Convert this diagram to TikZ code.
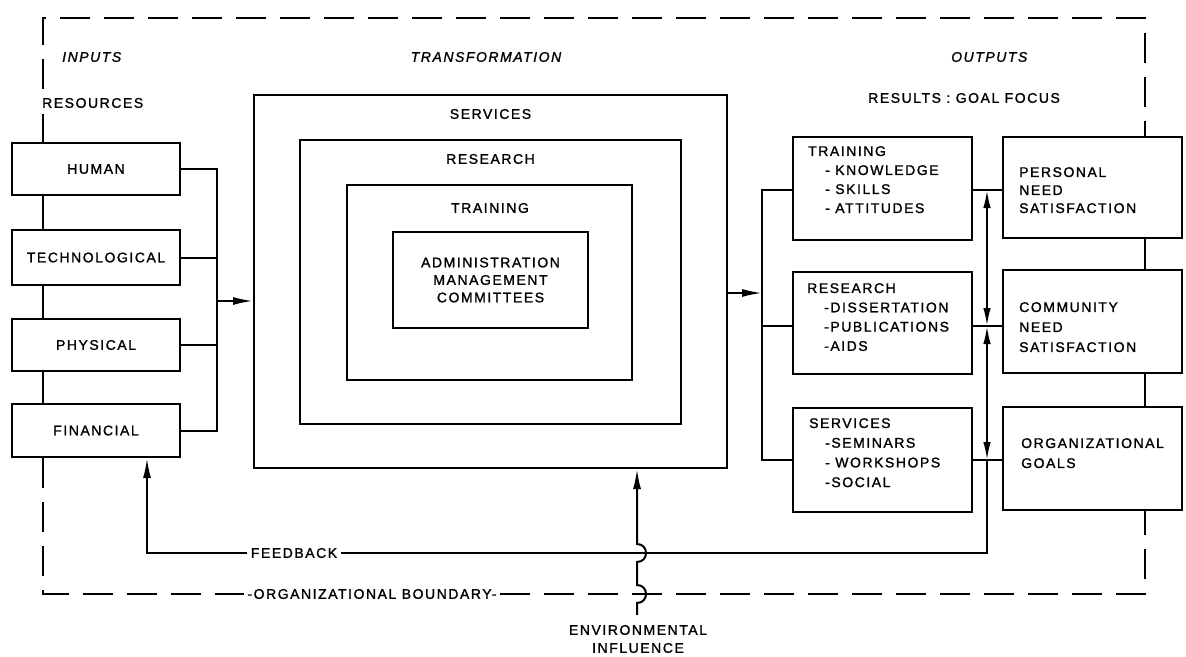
\documentclass[tikz,border=0pt]{standalone}
\usepackage{fontspec}
\setmainfont{Liberation Sans}[LetterSpace=11, FakeBold=1.3]
\usetikzlibrary{arrows.meta}

\begin{document}
\begin{tikzpicture}[x=1pt,y=-1pt,
  every node/.style={inner sep=0pt, font=\fontsize{14}{18}\selectfont},
  line/.style={line width=2pt},
  box/.style={draw, line width=2pt, inner sep=0pt},
  bound/.style={line width=2pt, dash pattern=on 30pt off 14pt},
  tip/.style={-{Latex[length=20pt,width=8pt]}},
  twotip/.style={{Latex[length=18pt,width=7.5pt]}-{Latex[length=18pt,width=7.5pt]}},
  head/.style={font=\fontsize{14}{18}\selectfont\itshape},
  list/.style={align=left, anchor=north west},
]
\useasboundingbox (0,0) rectangle (1186,656);

% ---------- headings ----------
\node[head, anchor=west] (inputs) at (62,57) {INPUTS};
\node[head] (transf) at (486,57) {TRANSFORMATION};
\node[head, anchor=west] (outputs) at (951,57) {OUTPUTS};
\node[anchor=west] (resources) at (42,103) {RESOURCES};
\node[anchor=west] (results) at (868,98) {RESULTS : GOAL FOCUS};

% ---------- input resources ----------
\node[box, minimum width=168, minimum height=52] (human) at (96,169) {HUMAN};
\node[box, minimum width=168, minimum height=55] (tech) at (96,257.5) {TECHNOLOGICAL};
\node[box, minimum width=168, minimum height=52] (phys) at (96,345) {PHYSICAL};
\node[box, minimum width=168, minimum height=53] (fin) at (96,430.5) {FINANCIAL};

% ---------- transformation (nested frames) ----------
\node[box, minimum width=473, minimum height=373] (services) at (490.5,281.5) {};
\node[box, minimum width=381, minimum height=284] (research) at (490.5,282) {};
\node[box, minimum width=285, minimum height=195] (training) at (489.5,282.5) {};
\node[box, minimum width=195, minimum height=96, align=center,
      font=\fontsize{14}{17.5}\selectfont] (admin) at (490.5,280)
      {ADMINISTRATION\\MANAGEMENT\\COMMITTEES};
\node (lsvc) at (490.5,114) {SERVICES};
\node (lres) at (490.5,159) {RESEARCH};
\node (ltrn) at (490,208) {TRAINING};

% ---------- outputs ----------
\node[box, minimum width=179, minimum height=103] (otrain) at (882.5,188.5) {};
\node[box, minimum width=179, minimum height=102] (ores) at (882.5,323) {};
\node[box, minimum width=179, minimum height=104] (osvc) at (882.5,460) {};
\node[list, font=\fontsize{14}{19}\selectfont] (ttrain) at (808,146)
  {TRAINING\\\hspace*{17pt}- KNOWLEDGE\\\hspace*{17pt}- SKILLS\\\hspace*{17pt}- ATTITUDES};
\node[list, font=\fontsize{14}{19.3}\selectfont] (tres) at (807,283)
  {RESEARCH\\\hspace*{17pt}-DISSERTATION\\\hspace*{17pt}-PUBLICATIONS\\\hspace*{17pt}-AIDS};
\node[list, font=\fontsize{14}{19.7}\selectfont] (tsvc) at (809,418)
  {SERVICES\\\hspace*{16pt}-SEMINARS\\\hspace*{16pt}- WORKSHOPS\\\hspace*{16pt}-SOCIAL};

% ---------- goals ----------
\node[box, minimum width=179, minimum height=101] (personal) at (1092.5,187.5) {};
\node[box, minimum width=179, minimum height=103] (community) at (1092.5,321.5) {};
\node[box, minimum width=179, minimum height=103] (org) at (1092.5,458.5) {};
\node[list, font=\fontsize{14}{18}\selectfont] (tpers) at (1019,167)
  {PERSONAL\\NEED\\SATISFACTION};
\node[list, font=\fontsize{14}{20}\selectfont] (tcomm) at (1019,302)
  {COMMUNITY\\NEED\\SATISFACTION};
\node[list, font=\fontsize{14}{20}\selectfont] (torg) at (1021,438)
  {ORGANIZATIONAL\\GOALS};

% ---------- labels on the bottom lines ----------
\node[inner xsep=4pt] (feedback) at (294,553) {FEEDBACK};
\node[inner xsep=3pt] (boundary) at (372,594) {-ORGANIZATIONAL BOUNDARY-};
\node[align=center] (env) at (638,639) {ENVIRONMENTAL\\INFLUENCE};

% ---------- reference coordinates ----------
\coordinate (lcol) at (43,0);
\coordinate (lbus) at (217,301);
\coordinate (rbus) at (762,293);
\coordinate (j1) at (987,190);
\coordinate (j2) at (987,326);
\coordinate (j3) at (987,460);
\coordinate (fbus) at (987,553);
\coordinate (fx) at (147,553);
\coordinate (envx) at (637,0);
\coordinate (tl) at (43,18);
\coordinate (tr) at (1145,18);
\coordinate (bl) at (43,594);
\coordinate (br) at (1145,594);

% ---------- organizational boundary ----------
\draw[bound] ([yshift=9pt]resources.north west -| lcol) -- (tl) -- (tr) -- (personal.north -| tr);
\draw[bound] ([yshift=-6pt]resources.south west -| lcol) -- (human.north -| lcol);
\draw[bound] (fin.south -| lcol) -- (bl) -- (boundary.west);
\draw[bound] (boundary.east) -- (br) -- (org.south -| br);

% ---------- column links ----------
\draw[line] (human.south -| lcol) -- (tech.north -| lcol);
\draw[line] (tech.south -| lcol) -- (phys.north -| lcol);
\draw[line] (phys.south -| lcol) -- (fin.north -| lcol);
\draw[line] (personal.south -| br) -- (community.north -| br);
\draw[line] (community.south -| br) -- (org.north -| br);

% ---------- inputs into transformation ----------
\draw[line] (human.east) -| (lbus) |- (fin.east);
\draw[line] (tech.east) -- (tech.east -| lbus);
\draw[line] (phys.east) -- (phys.east -| lbus);
\draw[line, tip] (lbus) -- (lbus -| services.west);

% ---------- transformation into outputs ----------
\draw[line, tip] (services.east |- rbus) -- (rbus);
\draw[line] (otrain.west |- j1) -| (rbus) |- (osvc.west |- j3);
\draw[line] (ores.west |- j2) -- (rbus |- j2);

% ---------- outputs into goals ----------
\draw[line] (otrain.east |- j1) -- (personal.west |- j1);
\draw[line] (ores.east |- j2) -- (community.west |- j2);
\draw[line] (osvc.east |- j3) -- (org.west |- j3);
\draw[line, twotip] (j1) -- (j2);
\draw[line, twotip] (j2) -- (j3);

% ---------- feedback loop ----------
\draw[line] (j3) -- (fbus) -- (feedback.east);
\draw[line, tip] (feedback.west) -- (fx) -- (fin.south -| fx);

% ---------- environmental influence, hopping over both lines ----------
\draw[line, tip] ([yshift=10pt]env.north -| envx) -- (envx |- 0,603)
  .. controls (649,603) and (649,585) .. (envx |- 0,585)
  -- (envx |- 0,562)
  .. controls (649,562) and (649,544) .. (envx |- 0,544)
  -- (services.south -| envx);
\end{tikzpicture}
\end{document}
